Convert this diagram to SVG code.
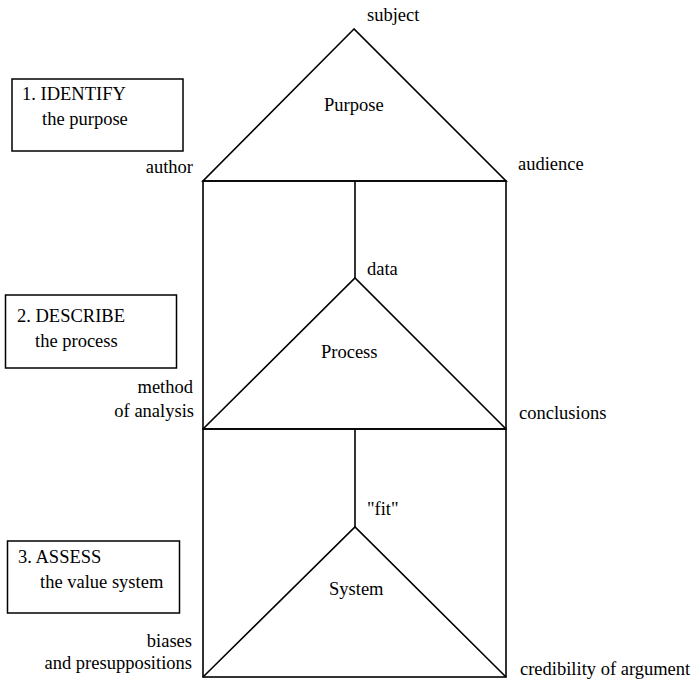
<svg xmlns="http://www.w3.org/2000/svg" width="692" height="679" viewBox="0 0 692 679">
<style>
text{font-family:"Liberation Serif","Times New Roman",serif;font-size:18.5px;fill:#000}
.ln{fill:none;stroke:#000;stroke-width:1.6;stroke-linejoin:miter}
.box{fill:#fff;stroke:#000;stroke-width:1.5}
.r{text-anchor:end}
</style>
<rect width="692" height="679" fill="#fff"/>
<g id="step1">
<rect class="box" x="12" y="79" width="171" height="72"/>
<text x="22" y="100">1. IDENTIFY</text>
<text x="42" y="125">the purpose</text>
</g>
<g id="step2">
<rect class="box" x="5.5" y="295" width="171" height="73"/>
<text x="17" y="322">2. DESCRIBE</text>
<text x="35" y="347">the process</text>
</g>
<g id="step3">
<rect class="box" x="7.5" y="541" width="172" height="72"/>
<text x="18" y="563">3. ASSESS</text>
<text x="40" y="588">the value system</text>
</g>
<g id="purpose">
<polygon class="ln" points="354,29 203,181 506,181"/>
<text x="324" y="111">Purpose</text>
<text x="367" y="21">subject</text>
<text class="r" x="193" y="173">author</text>
<text x="518" y="170">audience</text>
</g>
<g id="process">
<rect class="ln" x="203" y="181" width="303" height="248"/>
<polyline class="ln" points="203,429 355,278 506,429"/>
<text x="321" y="358">Process</text>
<text x="367" y="275">data</text>
<text class="r" x="193" y="393">method</text>
<text class="r" x="194" y="417">of analysis</text>
<text x="519" y="419">conclusions</text>
</g>
<g id="system">
<rect class="ln" x="203" y="429" width="303" height="248"/>
<polyline class="ln" points="203,677 355,527 506,677"/>
<text x="329" y="595">System</text>
<text x="367" y="515">"fit"</text>
<text class="r" x="192" y="647">biases</text>
<text class="r" x="192" y="669">and presuppositions</text>
<text x="520" y="675">credibility of argument</text>
</g>
<g id="connectors">
<line class="ln" x1="355" y1="181" x2="355" y2="278"/>
<line class="ln" x1="355" y1="429" x2="355" y2="527"/>
</g>
</svg>
